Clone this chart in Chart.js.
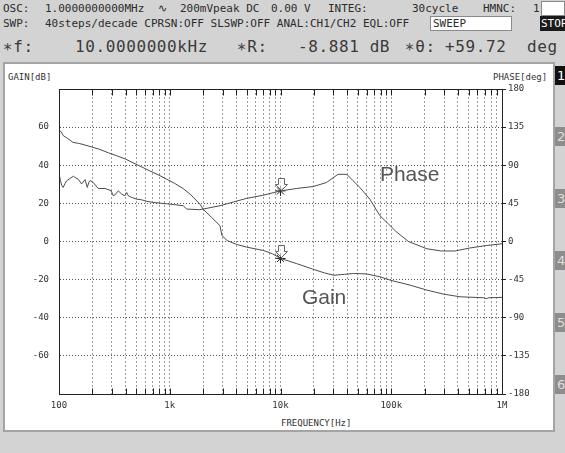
<!DOCTYPE html>
<html>
<head>
<meta charset="utf-8">
<script src="https://cdn.jsdelivr.net/npm/chart.js@4/dist/chart.umd.min.js"></script>
<style>
  html, body { margin: 0; padding: 0; }
  body {
    width: 565px; height: 453px; position: relative; overflow: hidden;
    background: #d3d3d3; color: #2c2c2c;
    font-family: "DejaVu Sans Mono", "Liberation Mono", monospace;
  }
  .t { position: absolute; white-space: pre; font-size: 11px; line-height: 13px; }
  .big { position: absolute; white-space: pre; font-size: 16px; line-height: 20px; color: #3a3a3a; letter-spacing: 0.6px; }
  .box { position: absolute; box-sizing: border-box; }
  #panel { left: 3px; top: 62px; width: 552px; height: 370px; background: #fff; border: 2px solid #a4a4a4; }
  .tab { position: absolute; left: 555px; width: 10px; height: 19px; background: #8d8d8d; color: #dedede;
         font-family: "DejaVu Sans", sans-serif; font-size: 13px; line-height: 19px; padding-left: 2px; box-sizing: border-box; overflow: hidden; }
  .axt { position: absolute; white-space: pre; font-size: 9px; line-height: 10px; color: #333; }
  #wrap { position: absolute; left: 0; top: 0; width: 565px; height: 453px; }
</style>
</head>
<body>
<!-- status lines -->
<div class="t" style="left:3px;top:2px">OSC:</div>
<div class="t" style="left:45px;top:2px">1.0000000000MHz</div>
<div class="t" style="left:158px;top:2px">∿</div>
<div class="t" style="left:180px;top:2px">200mVpeak DC</div>
<div class="t" style="left:271px;top:2px">0.00 V</div>
<div class="t" style="left:328px;top:2px">INTEG:</div>
<div class="t" style="left:412px;top:2px">30cycle</div>
<div class="t" style="left:483px;top:2px">HMNC:</div>
<div class="t" style="left:533px;top:2px">1</div>
<div class="box" style="left:541px;top:1px;width:24px;height:15px;background:#fff;border:1px solid #8a8a8a"></div>

<div class="t" style="left:3px;top:17px">SWP:</div>
<div class="t" style="left:45px;top:17px">40steps/decade CPRSN:OFF SLSWP:OFF ANAL:CH1/CH2 EQL:OFF</div>
<div class="box" style="left:430px;top:16px;width:82px;height:15px;background:#fff;border:1px solid #8a8a8a"></div>
<div class="t" style="left:433px;top:17px">SWEEP</div>
<div class="box" style="left:540px;top:16px;width:25px;height:15px;background:#1a1a1a"></div>
<div class="t" style="left:541px;top:17px;color:#fff;width:24px;overflow:hidden">STOP</div>

<div class="big" style="left:3px;top:37px">∗f:</div>
<div class="big" style="left:75px;top:37px">10.0000000kHz</div>
<div class="big" style="left:237px;top:37px">∗R:</div>
<div class="big" style="left:298px;top:37px">-8.881 dB</div>
<div class="big" style="left:405px;top:37px">∗θ:</div>
<div class="big" style="left:445px;top:37px">+59.72</div>
<div class="big" style="left:527px;top:37px">deg</div>

<!-- graph panel and page tabs -->
<div id="panel" class="box"></div>
<div class="tab" style="top:66px;background:#111;color:#fff">1</div>
<div class="tab" style="top:127px">2</div>
<div class="tab" style="top:189px">3</div>
<div class="tab" style="top:251px">4</div>
<div class="tab" style="top:313px">5</div>
<div class="tab" style="top:375px">6</div>

<div class="axt" style="left:8px;top:72px">GAIN[dB]</div>
<div class="axt" style="left:493px;top:72px">PHASE[deg]</div>
<div class="axt" style="left:281px;top:418px">FREQUENCY[Hz]</div>

<div id="wrap"><canvas id="c" width="565" height="453"></canvas></div>

<script>
// Measured gain trace (CH2/CH1), dB
const gainFreqHz = [100, 105, 109, 120, 134, 150, 165, 200, 234, 280, 332, 400, 466, 550, 663, 800, 938, 1100, 1320, 1550, 1870, 2000, 2400, 2840, 2960, 3300, 4000, 4900, 7000, 8500, 10000, 14000, 19800, 25000, 30400, 38000, 45800, 59800, 79000, 98000, 148000, 210000, 296000, 418000, 682000, 720000, 760000, 1000000];
const gainDb = [58.3, 57.5, 55.6, 54, 52, 51.5, 50.9, 49.5, 48.3, 46.5, 45, 43.2, 41.3, 39.3, 37, 34.8, 32.7, 30.6, 27.8, 24.5, 19.6, 17, 12.5, 8.3, 3.1, 0.5, -1.5, -2.9, -4.7, -6.5, -8.881, -11.6, -14.6, -16.5, -17.7, -17.2, -16.8, -17, -18.5, -20.3, -22.9, -25.5, -27.6, -29, -29.5, -30, -29.5, -29.3];

// Measured phase trace, degrees
const phaseFreqHz = [100, 103, 106, 109, 113, 117, 126, 135, 142, 149, 160, 172, 180, 186, 191, 204, 226, 260, 295, 309, 320, 343, 368, 394, 408, 423, 453, 502, 558, 620, 710, 938, 1100, 1330, 1420, 1870, 2000, 2840, 4900, 7000, 10000, 14000, 19800, 26000, 33000, 39700, 45000, 52000, 64000, 79000, 91000, 110000, 143000, 210000, 284000, 378000, 511000, 729000, 1000000];
const phaseDeg = [80, 72, 66, 63.8, 68, 71.5, 74.5, 77, 75, 73.5, 68, 73, 63.8, 70, 72, 69.6, 62.6, 62.6, 60, 54, 55, 59.8, 56, 54, 57.9, 53.9, 52, 50, 49.2, 47.5, 46.1, 44.5, 43.5, 42.2, 38.3, 37.5, 38.3, 42.2, 50.8, 54.7, 59.72, 62.6, 64.9, 69.6, 79.3, 79.3, 72, 63.8, 50, 30.5, 22.7, 12, 0, -8.6, -11.2, -11.2, -7.7, -4.7, -2.7];

// Marker readout at the cursor frequency
const markerFreqHz = [10000];
const markerGainDb = [-8.881];
const markerPhaseDeg = [59.72];

// Frequency axis: decade labels and the minor steps between them
const decadeValues = [100, 1000, 10000, 100000, 1000000];
const decadeLabels = ['100', '1k', '10k', '100k', '1M'];
const minorSteps = [2, 3, 4, 5, 6, 7, 8, 9];

// Vertical ranges of the two axes
const gainRange = [-80, 80];
const gainStep = 20;
const phaseRange = [-180, 180];
const phaseStep = 45;

const freqTicks = [];
decadeValues.forEach((d, i) => {
  freqTicks.push(d);
  if (i < decadeValues.length - 1) minorSteps.forEach(m => freqTicks.push(d * m));
});

const toXY = (xs, ys) => xs.map((x, i) => ({ x: x, y: ys[i] }));

const TRACE = '#4b4b4b';
const AXIS = '#222';
const tickFont = { family: 'DejaVu Sans Mono', size: 9 };

// Solid frame plus short inward ticks on the top and bottom edges
const frameTicks = {
  id: 'frameTicks',
  afterDatasetsDraw(chart) {
    const { ctx, chartArea: a, scales: { x } } = chart;
    ctx.save();
    ctx.strokeStyle = AXIS;
    ctx.lineWidth = 1;
    ctx.beginPath();
    const L = Math.round(a.left) + 0.5, R = Math.round(a.right) + 0.5;
    const T = Math.round(a.top) + 0.5, B = Math.round(a.bottom) + 0.5;
    ctx.moveTo(L, T); ctx.lineTo(R, T); ctx.lineTo(R, B); ctx.lineTo(L, B); ctx.closePath();
    x.ticks.forEach(t => {
      const px = Math.round(x.getPixelForValue(t.value)) + 0.5;
      ctx.moveTo(px, T); ctx.lineTo(px, T + 6);
      ctx.moveTo(px, B); ctx.lineTo(px, B - 6);
    });
    ctx.stroke();
    ctx.restore();
  }
};

// Down-pointing cursor arrows above the marker points, and the trace names
const markerDecor = {
  id: 'markerDecor',
  afterDatasetsDraw(chart) {
    const { ctx, scales } = chart;
    ctx.save();
    [2, 3].forEach(di => {
      chart.getDatasetMeta(di).data.forEach(el => {
        const x = Math.round(el.x) + 0.5, y = Math.round(el.y) + 0.5;
        ctx.beginPath();
        ctx.moveTo(x - 3, y - 13);
        ctx.lineTo(x + 3, y - 13);
        ctx.lineTo(x + 3, y - 7);
        ctx.lineTo(x + 6, y - 7);
        ctx.lineTo(x, y - 1);
        ctx.lineTo(x - 6, y - 7);
        ctx.lineTo(x - 3, y - 7);
        ctx.closePath();
        ctx.fillStyle = 'rgba(255,255,255,0.6)';
        ctx.fill();
        ctx.strokeStyle = '#666';
        ctx.lineWidth = 1;
        ctx.stroke();
      });
    });
    ctx.fillStyle = '#555';
    ctx.font = '21px "Liberation Sans", Arial, sans-serif';
    ctx.textBaseline = 'middle';
    ctx.textAlign = 'left';
    ctx.fillText('Phase', scales.x.getPixelForValue(79000), scales.y.getPixelForValue(35));
    ctx.fillText('Gain', scales.x.getPixelForValue(15600), scales.y.getPixelForValue(-29.5));
    ctx.restore();
  }
};

new Chart(document.getElementById('c'), {
  type: 'line',
  data: {
    datasets: [
      { label: 'Gain', data: toXY(gainFreqHz, gainDb), yAxisID: 'y', borderColor: TRACE, borderWidth: 1, pointRadius: 0, tension: 0 },
      { label: 'Phase', data: toXY(phaseFreqHz, phaseDeg), yAxisID: 'y2', borderColor: TRACE, borderWidth: 1, pointRadius: 0, tension: 0 },
      { label: 'Gain marker', data: toXY(markerFreqHz, markerGainDb), yAxisID: 'y', showLine: false,
        pointStyle: 'star', pointRadius: 5, borderColor: '#222', borderWidth: 1, backgroundColor: '#222' },
      { label: 'Phase marker', data: toXY(markerFreqHz, markerPhaseDeg), yAxisID: 'y2', showLine: false,
        pointStyle: 'star', pointRadius: 5, borderColor: '#222', borderWidth: 1, backgroundColor: '#222' }
    ]
  },
  options: {
    responsive: false,
    devicePixelRatio: 1,
    animation: false,
    events: [],
    layout: { padding: { top: 89, left: 0, right: 0, bottom: 0 } },
    plugins: { legend: { display: false }, tooltip: { enabled: false } },
    scales: {
      x: {
        type: 'logarithmic',
        min: decadeValues[0],
        max: decadeValues[decadeValues.length - 1],
        afterBuildTicks: s => { s.ticks = freqTicks.map(v => ({ value: v })); },
        afterFit: s => { s.height = 59; },
        grid: { color: '#9c9c9c', lineWidth: 1, drawTicks: false },
        border: { color: AXIS, dash: [2, 2] },
        ticks: {
          autoSkip: false, maxRotation: 0, padding: 6, color: '#333', font: tickFont,
          callback: v => { const i = decadeValues.indexOf(v); return i >= 0 ? decadeLabels[i] : ''; }
        }
      },
      y: {
        position: 'left',
        min: gainRange[0], max: gainRange[1],
        afterFit: s => { s.width = 59; },
        grid: { color: '#555', lineWidth: 1, drawTicks: false },
        border: { color: AXIS, dash: [1, 2] },
        ticks: {
          stepSize: gainStep, padding: 10, color: '#333', font: tickFont,
          callback: v => (v === gainRange[0] || v === gainRange[1]) ? '' : String(v)
        }
      },
      y2: {
        position: 'right',
        min: phaseRange[0], max: phaseRange[1],
        afterFit: s => { s.width = 63; },
        grid: { drawOnChartArea: false, drawTicks: true, tickLength: 4, tickColor: AXIS },
        border: { color: AXIS },
        ticks: { stepSize: phaseStep, padding: 2, color: '#333', font: tickFont }
      }
    }
  },
  plugins: [frameTicks, markerDecor]
});
</script>
</body>
</html>
